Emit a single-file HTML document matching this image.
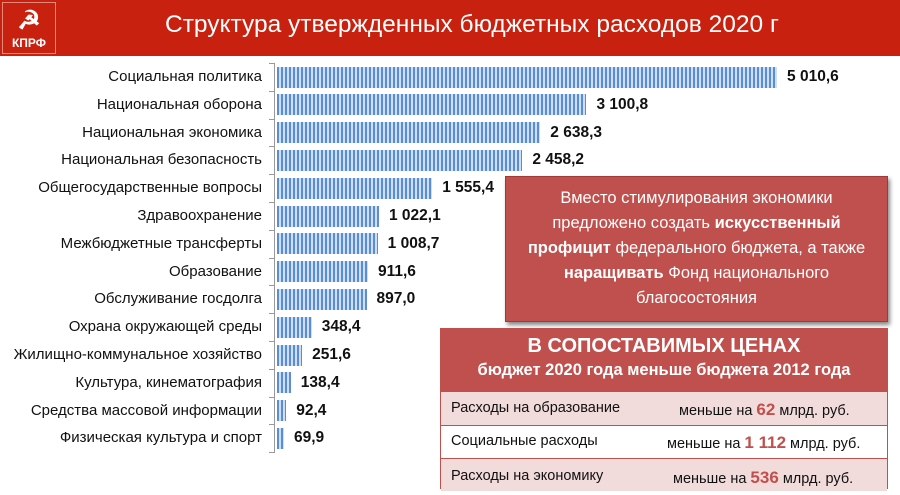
<!DOCTYPE html>
<html><head><meta charset="utf-8"><style>
body{margin:0;width:900px;height:495px;background:#fff;position:relative;overflow:hidden;font-family:"Liberation Sans","Noto Sans CJK SC",sans-serif}
.hdr{position:absolute;left:0;top:0;width:900px;height:56px;background:#c9210f}
.logo{position:absolute;left:2px;top:2px;width:54px;height:52px;border:1px solid #e58a7a;box-sizing:border-box;color:#fff;font-weight:bold;font-size:12px;text-align:center}
.title{position:absolute;left:165px;top:11px;color:#fff;font-size:24.5px}
.lab{position:absolute;right:638px;font-size:15px;color:#111;white-space:nowrap}
.bar{position:absolute;left:277px;height:21px;background:repeating-linear-gradient(90deg,#5a8ed2 0 2px,#cfe0f5 2px 4px)}
.val{position:absolute;font-size:15.5px;font-weight:bold;color:#111}
.axis{position:absolute;left:274px;top:63px;width:1px;height:390px;background:#999}
.tick{position:absolute;left:269px;width:5px;height:1px;background:#999}
.call{position:absolute;left:505px;top:176px;width:383px;height:146px;background:#c0504d;border:1px solid #9e3a38;box-shadow:2px 3px 4px #888;box-sizing:border-box;color:#fff;font-size:16.5px;line-height:25px;text-align:center;padding-top:9px}
.tbl{position:absolute;left:440px;top:328px;width:448px;height:161px;border:1px solid #c0504d;box-sizing:border-box}
.th{background:#c0504d;color:#fff;font-weight:bold;text-align:center;height:62px}
.row{height:32px;border-top:1px solid #c0504d;position:relative;font-size:14.5px;color:#111}
.row span{position:absolute;top:7px}
.row b{color:#c0504d;font-size:17px}
</style></head><body>
<div class="hdr"><div class="logo"><div style="font-size:26px;line-height:34px">☭</div><div style="line-height:12px">КПРФ</div></div>
<div class="title">Структура утвержденных бюджетных расходов 2020 г</div></div>
<div class="axis"></div>
<div id="c"></div>
<div class="call">Вместо стимулирования экономики<br>предложено создать <b>искусственный</b><br><b>профицит</b> федерального бюджета, а также<br><b>наращивать</b> Фонд национального<br>благосостояния</div>
<div class="tbl">
<div class="th"><div style="font-size:20px;padding-top:6px">В СОПОСТАВИМЫХ ЦЕНАХ</div><div style="font-size:16.5px;padding-top:3px">бюджет 2020 года меньше бюджета 2012 года</div></div>
<div class="row" style="background:#f2dcdb;height:33px"><span style="left:10px;top:8px">Расходы на образование</span><span style="left:238px;top:8px">меньше на <b>62</b> млрд. руб.</span></div>
<div class="row" style="background:#fff"><span style="left:10px">Социальные расходы</span><span style="left:226px">меньше на <b>1 112</b> млрд. руб.</span></div>
<div class="row" style="background:#f2dcdb"><span style="left:10px;top:9px">Расходы на экономику</span><span style="left:232px;top:9px">меньше на <b>536</b> млрд. руб.</span></div>
</div>
<script>
var d=[["Социальная политика",5010.6,"5 010,6"],["Национальная оборона",3100.8,"3 100,8"],["Национальная экономика",2638.3,"2 638,3"],["Национальная безопасность",2458.2,"2 458,2"],["Общегосударственные вопросы",1555.4,"1 555,4"],["Здравоохранение",1022.1,"1 022,1"],["Межбюджетные трансферты",1008.7,"1 008,7"],["Образование",911.6,"911,6"],["Обслуживание госдолга",897.0,"897,0"],["Охрана окружающей среды",348.4,"348,4"],["Жилищно-коммунальное хозяйство",251.6,"251,6"],["Культура, кинематография",138.4,"138,4"],["Средства массовой информации",92.4,"92,4"],["Физическая культура и спорт",69.9,"69,9"]];
var h="";d.forEach(function(r,i){var cy=77+i*27.8,w=r[1]*0.0998;
h+='<div class="lab" style="top:'+(cy-9)+'px">'+r[0]+'</div><div class="bar" style="top:'+(cy-10.5)+'px;width:'+w+'px"></div><div class="val" style="top:'+(cy-9)+'px;left:'+(277+w+10)+'px">'+r[2]+'</div><div class="tick" style="top:'+(cy-14)+'px"></div>';});
h+='<div class="tick" style="top:452px"></div>';
document.getElementById("c").innerHTML=h;
</script>
</body></html>
